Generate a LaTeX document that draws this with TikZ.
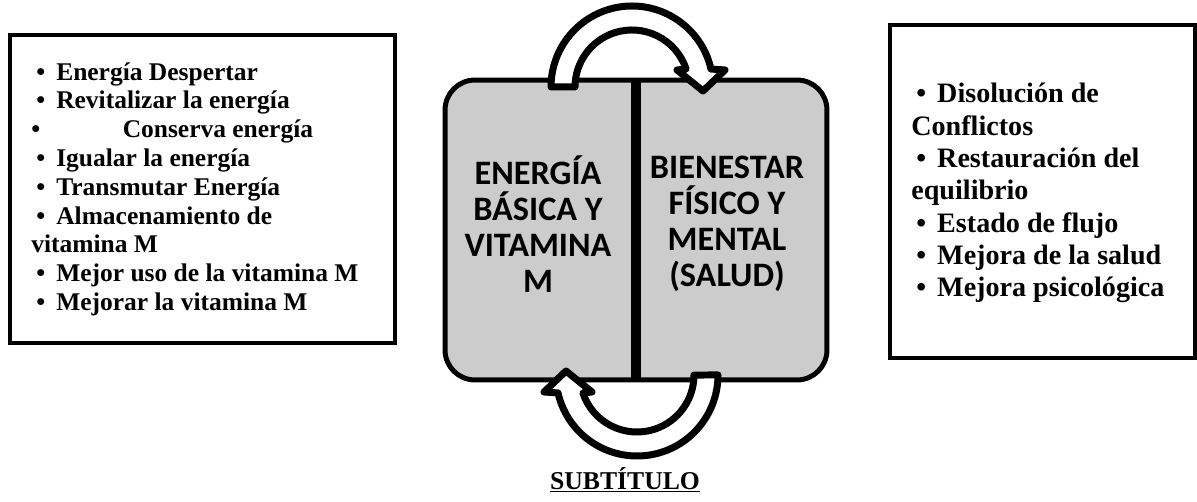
\documentclass[tikz,border=0pt]{standalone}
\usepackage{fontspec}
\setmainfont{Liberation Serif}
\newfontfamily\carlito{Carlito}
\usetikzlibrary{positioning}
\definecolor{grisnucleo}{RGB}{204,204,204}
\tikzset{
  caja/.style={draw, line width=0.08cm, inner sep=0pt},
  lista/.style={inner sep=0pt, align=left},
  nucleotxt/.style={align=center, font=\carlito\bfseries\fontsize{19.5}{20.5}\selectfont},
  flecha/.style={draw, fill=white, line width=0.14cm, line join=round}
}
\newcommand{\pto}{\hspace{0.1cm}\textbullet\hspace{0.22cm}}

\begin{document}
\begin{tikzpicture}[x=0.02cm,y=0.02cm]
	\useasboundingbox (0,0) rectangle (1197,-502);
	% Kaesten
	\node[caja, minimum width=7.7cm, minimum height=6.16cm] (izq) at (202.5,-189) {};
	\node[caja, minimum width=6.1cm, minimum height=6.66cm] (der) at (1042.5,-191.5) {};
	% Listen
	\node[lista, font=\bfseries\fontsize{14.5}{16.4}\selectfont,
		below right=0.58cm and 0.46cm of izq.north west] (listaizq)
		{\pto Energía Despertar\\
		\pto Revitalizar la energía\\
		\textbullet\hspace{1.65cm}Conserva energía\\
		\pto Igualar la energía\\
		\pto Transmutar Energía\\
		\pto Almacenamiento de\\
		vitamina M\\
		\pto Mejor uso de la vitamina M\\
		\pto Mejorar la vitamina M};
	\node[lista, font=\bfseries\fontsize{16}{18.4}\selectfont,
		below right=1.2cm and 0.46cm of der.north west] (listader)
		{\pto Disolución de\\
		Conflictos\\
		\pto Restauración del\\
		equilibrio\\
		\pto Estado de flujo\\
		\pto Mejora de la salud\\
		\pto Mejora psicológica};
	% Mitte
	\node[draw, line width=0.1cm, fill=grisnucleo, rounded corners=0.6cm,
		minimum width=7.64cm, minimum height=6cm] (nucleo) at (636,-230) {};
	\draw[line width=0.2cm] (nucleo.north) -- (nucleo.south);
	\node[nucleotxt] (energia) at (538,-224) {ENERGÍA\\BÁSICA Y\\VITAMINA\\M};
	\node[nucleotxt] (bienestar) at (727,-224) {BIENESTAR\\FÍSICO Y\\MENTAL\\(SALUD)};
	% Pfeile
	\foreach \g in {0,180}
		\draw[flecha, rotate around={\g:(634.5,-231)}] (551,-87)
			arc[start angle=180, end angle=12.8, radius=81] -- (725,-70) -- (703,-91)
			-- (677,-70) -- (686.1,-69) arc[start angle=18.4, end angle=180, radius=57]
			-- cycle;
	\node[font=\bfseries\fontsize{14.6}{17}\selectfont] (subtitulo) at (625,-480) {\underline{SUBTÍTULO}};
\end{tikzpicture}
\end{document}
